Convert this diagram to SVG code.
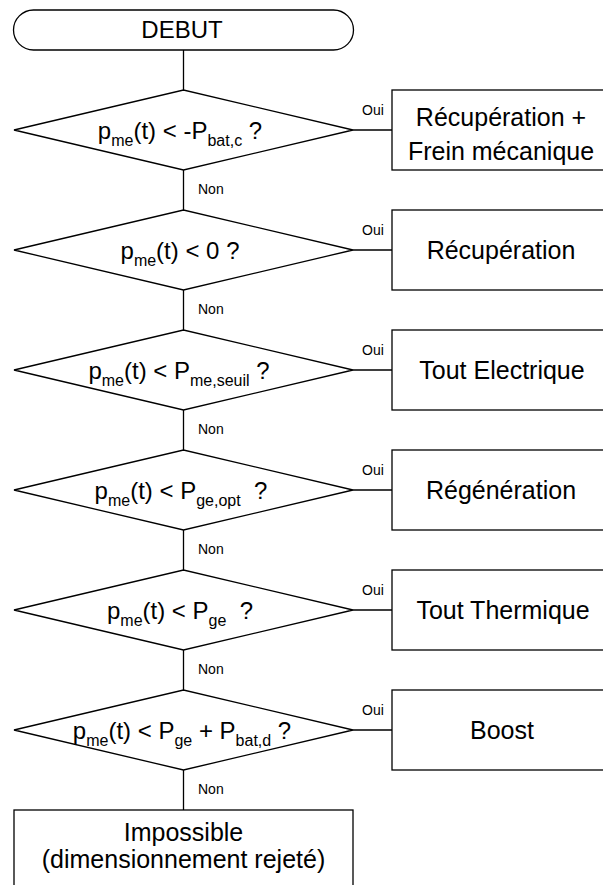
<svg xmlns="http://www.w3.org/2000/svg" width="603" height="885" viewBox="0 0 603 885">
  <style>
    .shape { fill: #ffffff; stroke: #000000; stroke-width: 1.3; }
    .wire { fill: none; stroke: #000000; stroke-width: 1.3; }
    text { font-family: "Liberation Sans", Arial, sans-serif; fill: #000000; }
    .big { font-size: 25px; text-anchor: middle; }
    .cond { font-size: 24px; text-anchor: middle; white-space: pre; }
    .sub { font-size: 16px; }
    .tag { font-size: 14px; }
  </style>
  <defs>
    <!-- decision diamond, centred on the origin -->
    <polygon id="diamond" points="-169.5,0 0,-40 169.5,0 0,40"/>
  </defs>

  <rect width="603" height="885" fill="#ffffff"/>

  <!-- connectors -->
  <g id="connectors" class="wire">
    <path d="M183.5 50 V90 M183.5 170 V210 M183.5 290 V330 M183.5 410 V450 M183.5 530 V570 M183.5 650 V690 M183.5 770 V810"/>
    <path d="M353 130 H392 M353 250 H392 M353 370 H392 M353 490 H392 M353 610 H392 M353 730 H392"/>
  </g>

  <!-- branch labels -->
  <g id="labels" class="tag">
    <text x="362" y="115">Oui</text>
    <text x="362" y="235">Oui</text>
    <text x="362" y="355">Oui</text>
    <text x="362" y="475">Oui</text>
    <text x="362" y="595">Oui</text>
    <text x="362" y="715">Oui</text>
    <text x="198" y="194">Non</text>
    <text x="198" y="314">Non</text>
    <text x="198" y="434">Non</text>
    <text x="198" y="554">Non</text>
    <text x="198" y="674">Non</text>
    <text x="198" y="794">Non</text>
  </g>

  <g id="start">
    <rect class="shape" x="13.5" y="10" width="340" height="40" rx="20" ry="20"/>
    <text class="big" x="182" y="38" style="font-size:24px">DEBUT</text>
  </g>

  <g id="test1">
    <use href="#diamond" class="shape" x="183.5" y="130"/>
    <text class="cond" x="180" y="139">p<tspan class="sub" dy="6.5">me</tspan><tspan dy="-6.5">(t) &lt; -P</tspan><tspan class="sub" dy="6.5">bat,c</tspan><tspan dy="-6.5"> ?</tspan></text>
  </g>
  <g id="mode1">
    <rect class="shape" x="392" y="90" width="220" height="80"/>
    <text class="big" x="501" y="126">Récupération +</text>
    <text class="big" x="501" y="160">Frein mécanique</text>
  </g>

  <g id="test2">
    <use href="#diamond" class="shape" x="183.5" y="250"/>
    <text class="cond" x="180" y="259">p<tspan class="sub" dy="6.5">me</tspan><tspan dy="-6.5">(t) &lt; 0 ?</tspan></text>
  </g>
  <g id="mode2">
    <rect class="shape" x="392" y="210" width="220" height="80"/>
    <text class="big" x="501" y="259">Récupération</text>
  </g>

  <g id="test3">
    <use href="#diamond" class="shape" x="183.5" y="370"/>
    <text class="cond" x="179" y="379">p<tspan class="sub" dy="6.5">me</tspan><tspan dy="-6.5">(t) &lt; P</tspan><tspan class="sub" dy="6.5">me,seuil</tspan><tspan dy="-6.5"> ?</tspan></text>
  </g>
  <g id="mode3">
    <rect class="shape" x="392" y="330" width="220" height="80"/>
    <text class="big" x="502" y="379">Tout Electrique</text>
  </g>

  <g id="test4">
    <use href="#diamond" class="shape" x="183.5" y="490"/>
    <text class="cond" x="181" y="499">p<tspan class="sub" dy="6.5">me</tspan><tspan dy="-6.5">(t) &lt; P</tspan><tspan class="sub" dy="6.5">ge,opt</tspan><tspan dy="-6.5">  ?</tspan></text>
  </g>
  <g id="mode4">
    <rect class="shape" x="392" y="450" width="220" height="80"/>
    <text class="big" x="501" y="499">Régénération</text>
  </g>

  <g id="test5">
    <use href="#diamond" class="shape" x="183.5" y="610"/>
    <text class="cond" x="180" y="619">p<tspan class="sub" dy="6.5">me</tspan><tspan dy="-6.5">(t) &lt; P</tspan><tspan class="sub" dy="6.5">ge</tspan><tspan dy="-6.5">  ?</tspan></text>
  </g>
  <g id="mode5">
    <rect class="shape" x="392" y="570" width="220" height="80"/>
    <text class="big" x="503" y="619">Tout Thermique</text>
  </g>

  <g id="test6">
    <use href="#diamond" class="shape" x="183.5" y="730"/>
    <text class="cond" x="182" y="739">p<tspan class="sub" dy="6.5">me</tspan><tspan dy="-6.5">(t) &lt; P</tspan><tspan class="sub" dy="6.5">ge</tspan><tspan dy="-6.5"> + P</tspan><tspan class="sub" dy="6.5">bat,d</tspan><tspan dy="-6.5"> ?</tspan></text>
  </g>
  <g id="mode6">
    <rect class="shape" x="392" y="690" width="220" height="80"/>
    <text class="big" x="502" y="739">Boost</text>
  </g>

  <g id="reject">
    <rect class="shape" x="14" y="810" width="339" height="100"/>
    <text class="big" x="183.5" y="841">Impossible</text>
    <text class="big" x="183.5" y="868">(dimensionnement rejeté)</text>
  </g>
</svg>
